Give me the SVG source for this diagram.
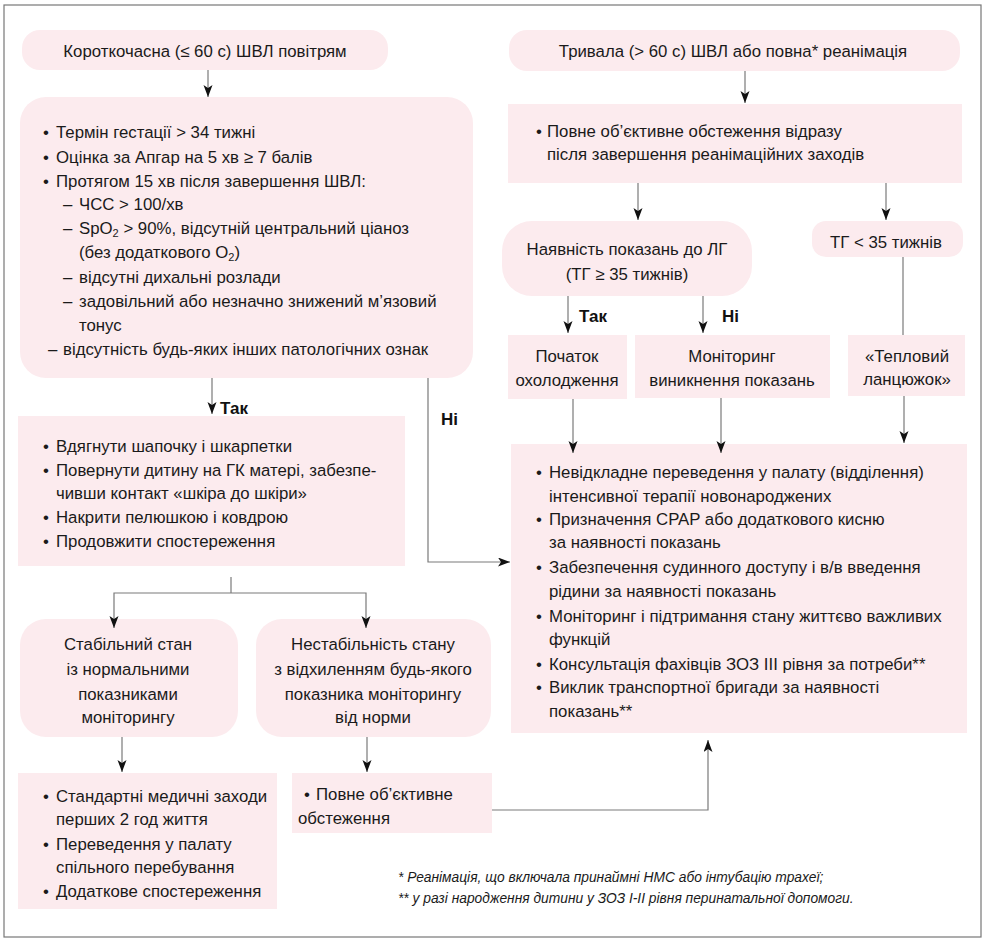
<svg xmlns="http://www.w3.org/2000/svg" width="986" height="943" viewBox="0 0 986 943">
<defs>
<style>
.bx{fill:#fcebee}
.t{font-family:"Liberation Sans",Arial,sans-serif;font-size:16.8px;fill:#1a1a1a}
.c{text-anchor:middle}
.b{font-family:"Liberation Sans",Arial,sans-serif;font-size:17px;font-weight:bold;fill:#111}
.fn{font-family:"Liberation Sans",Arial,sans-serif;font-size:13.8px;font-style:italic;fill:#1a1a1a}
.ln{fill:none;stroke:#7a7a7a;stroke-width:1.2}
.ar{marker-end:url(#ah)}
</style>
<marker id="ah" markerUnits="userSpaceOnUse" markerWidth="12" markerHeight="10" refX="12" refY="4.5" orient="auto">
<path d="M0,0 L12,4.5 L0,9 L3,4.5 z" fill="#111"/>
</marker>
</defs>
<rect x="4" y="5" width="977" height="932" fill="#fff" stroke="#777" stroke-width="1.2"/>

<g id="n1">
<rect class="bx" x="22" y="30" width="366" height="40" rx="18"/>
<text class="t c" x="205" y="57">Короткочасна (≤ 60 с) ШВЛ повітрям</text>
</g>

<g id="n2">
<rect class="bx" x="20" y="97" width="453" height="281" rx="26"/>
<text class="t" x="43" y="138">•</text><text class="t" x="56" y="138">Термін гестації &gt; 34 тижні</text>
<text class="t" x="43" y="163">•</text><text class="t" x="56" y="163">Оцінка за Апгар на 5 хв ≥ 7 балів</text>
<text class="t" x="43" y="187">•</text><text class="t" x="56" y="187">Протягом 15 хв після завершення ШВЛ:</text>
<text class="t" x="63" y="210">–</text><text class="t" x="79" y="210">ЧСС &gt; 100/хв</text>
<text class="t" x="63" y="234">–</text><text class="t" x="79" y="234">SpO<tspan font-size="11" dy="3">2</tspan><tspan dy="-3"> &gt; 90%, відсутній центральний ціаноз</tspan></text>
<text class="t" x="79" y="258">(без додаткового O<tspan font-size="11" dy="3">2</tspan><tspan dy="-3">)</tspan></text>
<text class="t" x="63" y="283">–</text><text class="t" x="79" y="283">відсутні дихальні розлади</text>
<text class="t" x="63" y="307">–</text><text class="t" x="79" y="307">задовільний або незначно знижений м’язовий</text>
<text class="t" x="79" y="331">тонус</text>
<text class="t" x="48" y="355">–</text><text class="t" x="63" y="355">відсутність будь-яких інших патологічних ознак</text>
</g>

<g id="n3">
<rect class="bx" x="18" y="416" width="387" height="150"/>
<text class="t" x="43" y="452">•</text><text class="t" x="56" y="452">Вдягнути шапочку і шкарпетки</text>
<text class="t" x="43" y="476">•</text><text class="t" x="56" y="476">Повернути дитину на ГК матері, забезпе-</text>
<text class="t" x="56" y="499">чивши контакт «шкіра до шкіри»</text>
<text class="t" x="43" y="523">•</text><text class="t" x="56" y="523">Накрити пелюшкою і ковдрою</text>
<text class="t" x="43" y="547">•</text><text class="t" x="56" y="547">Продовжити спостереження</text>
</g>

<g id="n4">
<rect class="bx" x="20" y="619" width="218" height="118" rx="26"/>
<text class="t c" x="128" y="650">Стабільний стан</text>
<text class="t c" x="128" y="675">із нормальними</text>
<text class="t c" x="128" y="700">показниками</text>
<text class="t c" x="128" y="723">моніторингу</text>
</g>

<g id="n5">
<rect class="bx" x="256" y="619" width="235" height="118" rx="26"/>
<text class="t c" x="373" y="650">Нестабільність стану</text>
<text class="t c" x="373" y="675">з відхиленням будь-якого</text>
<text class="t c" x="373" y="700">показника моніторингу</text>
<text class="t c" x="373" y="723">від норми</text>
</g>

<g id="n6">
<rect class="bx" x="18" y="773" width="259" height="136"/>
<text class="t" x="43" y="802">•</text><text class="t" x="56" y="802">Стандартні медичні заходи</text>
<text class="t" x="56" y="825">перших 2 год життя</text>
<text class="t" x="43" y="850">•</text><text class="t" x="56" y="850">Переведення у палату</text>
<text class="t" x="56" y="873">спільного перебування</text>
<text class="t" x="43" y="897">•</text><text class="t" x="56" y="897">Додаткове спостереження</text>
</g>

<g id="n7">
<rect class="bx" x="292" y="773" width="200" height="60"/>
<text class="t" x="304" y="800">•</text><text class="t" x="316" y="800">Повне об’єктивне</text>
<text class="t" x="298" y="824">обстеження</text>
</g>

<g id="r1">
<rect class="bx" x="509" y="30" width="451" height="41" rx="18"/>
<text class="t c" x="733" y="57">Тривала (&gt; 60 с) ШВЛ або повна* реанімація</text>
</g>

<g id="r2">
<rect class="bx" x="508" y="104" width="454" height="79"/>
<text class="t" x="536" y="137">•</text><text class="t" x="547" y="137">Повне об’єктивне обстеження відразу</text>
<text class="t" x="547" y="160">після завершення реанімаційних заходів</text>
</g>

<g id="r3">
<rect class="bx" x="502" y="221" width="250" height="75" rx="30"/>
<text class="t c" x="627" y="255">Наявність показань до ЛГ</text>
<text class="t c" x="627" y="280">(ТГ ≥ 35 тижнів)</text>
</g>

<g id="r4">
<rect class="bx" x="812" y="221" width="151" height="36" rx="14"/>
<text class="t c" x="886" y="248">ТГ &lt; 35 тижнів</text>
</g>

<g id="r5">
<rect class="bx" x="508" y="335" width="119" height="64"/>
<text class="t c" x="567" y="362">Початок</text>
<text class="t c" x="567" y="386">охолодження</text>
</g>

<g id="r6">
<rect class="bx" x="635" y="335" width="195" height="63"/>
<text class="t c" x="732" y="362">Моніторинг</text>
<text class="t c" x="732" y="386">виникнення показань</text>
</g>

<g id="r7">
<rect class="bx" x="848" y="335" width="117" height="61"/>
<text class="t c" x="907" y="362">«Тепловий</text>
<text class="t c" x="907" y="385">ланцюжок»</text>
</g>

<g id="r8">
<rect class="bx" x="511" y="444" width="456" height="289"/>
<text class="t" x="536" y="478">•</text><text class="t" x="549" y="478">Невідкладне переведення у палату (відділення)</text>
<text class="t" x="549" y="502">інтенсивної терапії новонароджених</text>
<text class="t" x="536" y="525">•</text><text class="t" x="549" y="525">Призначення CPAP або додаткового кисню</text>
<text class="t" x="549" y="548">за наявності показань</text>
<text class="t" x="536" y="573">•</text><text class="t" x="549" y="573">Забезпечення судинного доступу і в/в введення</text>
<text class="t" x="549" y="597">рідини за наявності показань</text>
<text class="t" x="536" y="622">•</text><text class="t" x="549" y="622">Моніторинг і підтримання стану життєво важливих</text>
<text class="t" x="549" y="645">функцій</text>
<text class="t" x="536" y="670">•</text><text class="t" x="549" y="670">Консультація фахівців ЗОЗ III рівня за потреби**</text>
<text class="t" x="536" y="693">•</text><text class="t" x="549" y="693">Виклик транспортної бригади за наявності</text>
<text class="t" x="549" y="717">показань**</text>
</g>

<g id="connectors">
<line class="ln ar" x1="208" y1="70" x2="208" y2="97"/>
<line class="ln ar" x1="212" y1="378" x2="212" y2="414"/>
<polyline class="ln ar" points="428,378 428,562 510,562"/>
<line class="ln" x1="231" y1="577" x2="231" y2="593"/>
<polyline class="ln ar" points="231,593 114,593 114,628"/>
<polyline class="ln ar" points="231,593 366,593 366,628"/>
<line class="ln ar" x1="122" y1="737" x2="122" y2="772"/>
<line class="ln ar" x1="367" y1="737" x2="367" y2="772"/>
<polyline class="ln ar" points="492,810 708,810 708,740"/>
<line class="ln ar" x1="745" y1="71" x2="745" y2="103"/>
<line class="ln ar" x1="638" y1="183" x2="638" y2="220"/>
<line class="ln ar" x1="886" y1="183" x2="886" y2="220"/>
<line class="ln ar" x1="568" y1="296" x2="568" y2="333"/>
<line class="ln ar" x1="703" y1="296" x2="703" y2="333"/>
<line class="ln" x1="903" y1="257" x2="903" y2="335"/>
<line class="ln ar" x1="573" y1="399" x2="573" y2="453"/>
<line class="ln ar" x1="721" y1="398" x2="721" y2="453"/>
<line class="ln ar" x1="904" y1="396" x2="904" y2="443"/>
<text class="b" x="220" y="414">Так</text>
<text class="b" x="441" y="425">Ні</text>
<text class="b" x="579" y="322">Так</text>
<text class="b" x="722" y="322">Ні</text>
</g>

<g id="footnotes">
<text class="fn" x="398" y="882">* Реанімація, що включала принаймні НМС або інтубацію трахеї;</text>
<text class="fn" x="398" y="903">** у разі народження дитини у ЗОЗ I-II рівня перинатальної допомоги.</text>
</g>
</svg>
